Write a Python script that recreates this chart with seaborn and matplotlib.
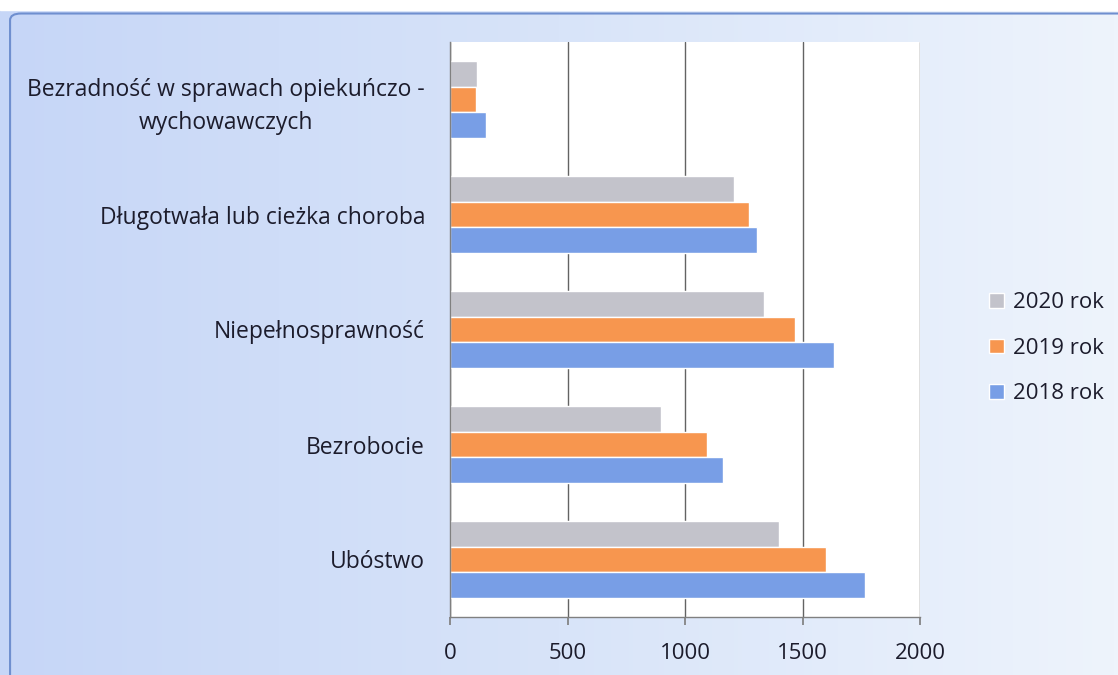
import numpy as np
import pandas as pd
import matplotlib.pyplot as plt
from matplotlib.patches import FancyBboxPatch
from matplotlib.colors import LinearSegmentedColormap
import seaborn as sns

sns.set_theme(style='white')
plt.rcParams['font.family'] = ['Open Sans', 'DejaVu Sans']

kategorie = ['Bezradność w sprawach opiekuńczo -\nwychowawczych',
             'Długotwała lub cieżka choroba',
             'Niepełnosprawność',
             'Bezrobocie',
             'Ubóstwo']
lata = ['2020 rok', '2019 rok', '2018 rok']
w2020 = [113, 1208, 1336, 898, 1401]
w2019 = [110, 1274, 1469, 1092, 1600]
w2018 = [153, 1305, 1634, 1163, 1766]
x_ticks = [0, 500, 1000, 1500, 2000]

df = pd.DataFrame({
    'kategoria': kategorie * 3,
    'rok': [lata[0]] * 5 + [lata[1]] * 5 + [lata[2]] * 5,
    'wartosc': w2020 + w2019 + w2018,
})

kolory = {'2020 rok': '#c3c3cb', '2019 rok': '#f7964f', '2018 rok': '#789ee6'}
tekst = '#1c1c2c'

fig = plt.figure(figsize=(11.18, 6.75), dpi=100)

# tlo z gradientem
bg = fig.add_axes([0, 0, 1, 1], zorder=-2)
grad = np.linspace(0, 1, 256)[None, :]
cmap = LinearSegmentedColormap.from_list('bg', ['#c6d6f7', '#d8e4f9', '#eef4fc'])
bg.imshow(grad, aspect='auto', cmap=cmap, extent=[0, 1, 0, 1])
bg.add_patch(FancyBboxPatch((0.009, -0.02), 1.02, 1.0, boxstyle='round,pad=0,rounding_size=0.01',
                            fill=False, edgecolor='#6f8fcf', lw=1.5, transform=bg.transAxes))
bg.add_patch(plt.Rectangle((0, 0.985), 1, 0.02, color='white', transform=bg.transAxes))
bg.set_xlim(0, 1)
bg.set_ylim(0, 1)
bg.axis('off')

ax = fig.add_axes([450 / 1118, 58 / 675, 470 / 1118, 575 / 675])
sns.barplot(data=df, x='wartosc', y='kategoria', hue='rok', order=kategorie,
            hue_order=lata, palette=kolory, orient='h', width=0.67,
            saturation=1, ax=ax)

ax.set_facecolor('white')
ax.set_xlim(0, 2000)
ax.set_ylim(4.5, -0.5)
ax.set_xticks(x_ticks)
ax.set_xticklabels([str(t) for t in x_ticks], fontsize=16, color=tekst)
ax.set_yticks(range(len(kategorie)))
ax.set_yticklabels(kategorie, fontsize=16.5, color=tekst, multialignment='center',
                   linespacing=1.45)
ax.set_yticks(np.arange(-0.5, 5, 1), minor=True)
ax.tick_params(axis='y', which='major', length=0, pad=18)
ax.tick_params(axis='y', which='minor', length=5.5, color='#808080', direction='out')
ax.tick_params(axis='x', length=5.5, color='#808080', direction='out', pad=13, bottom=True)
ax.set_xlabel('')
ax.set_ylabel('')
ax.grid(axis='x', color='#636363', lw=1)
ax.set_axisbelow(True)
for s in ['top', 'right']:
    ax.spines[s].set_visible(False)
for s in ['left', 'bottom']:
    ax.spines[s].set_color('#808080')
    ax.spines[s].set_linewidth(1)

h, l = ax.get_legend_handles_labels()
ax.legend_.remove()
fig.legend(h, l, loc='center', bbox_to_anchor=(0.936, 0.484), frameon=False,
           fontsize=16, labelspacing=1.1, handlelength=0.65, handleheight=0.65,
           handletextpad=0.4, labelcolor=tekst)

fig.savefig('out.png', dpi=100)
